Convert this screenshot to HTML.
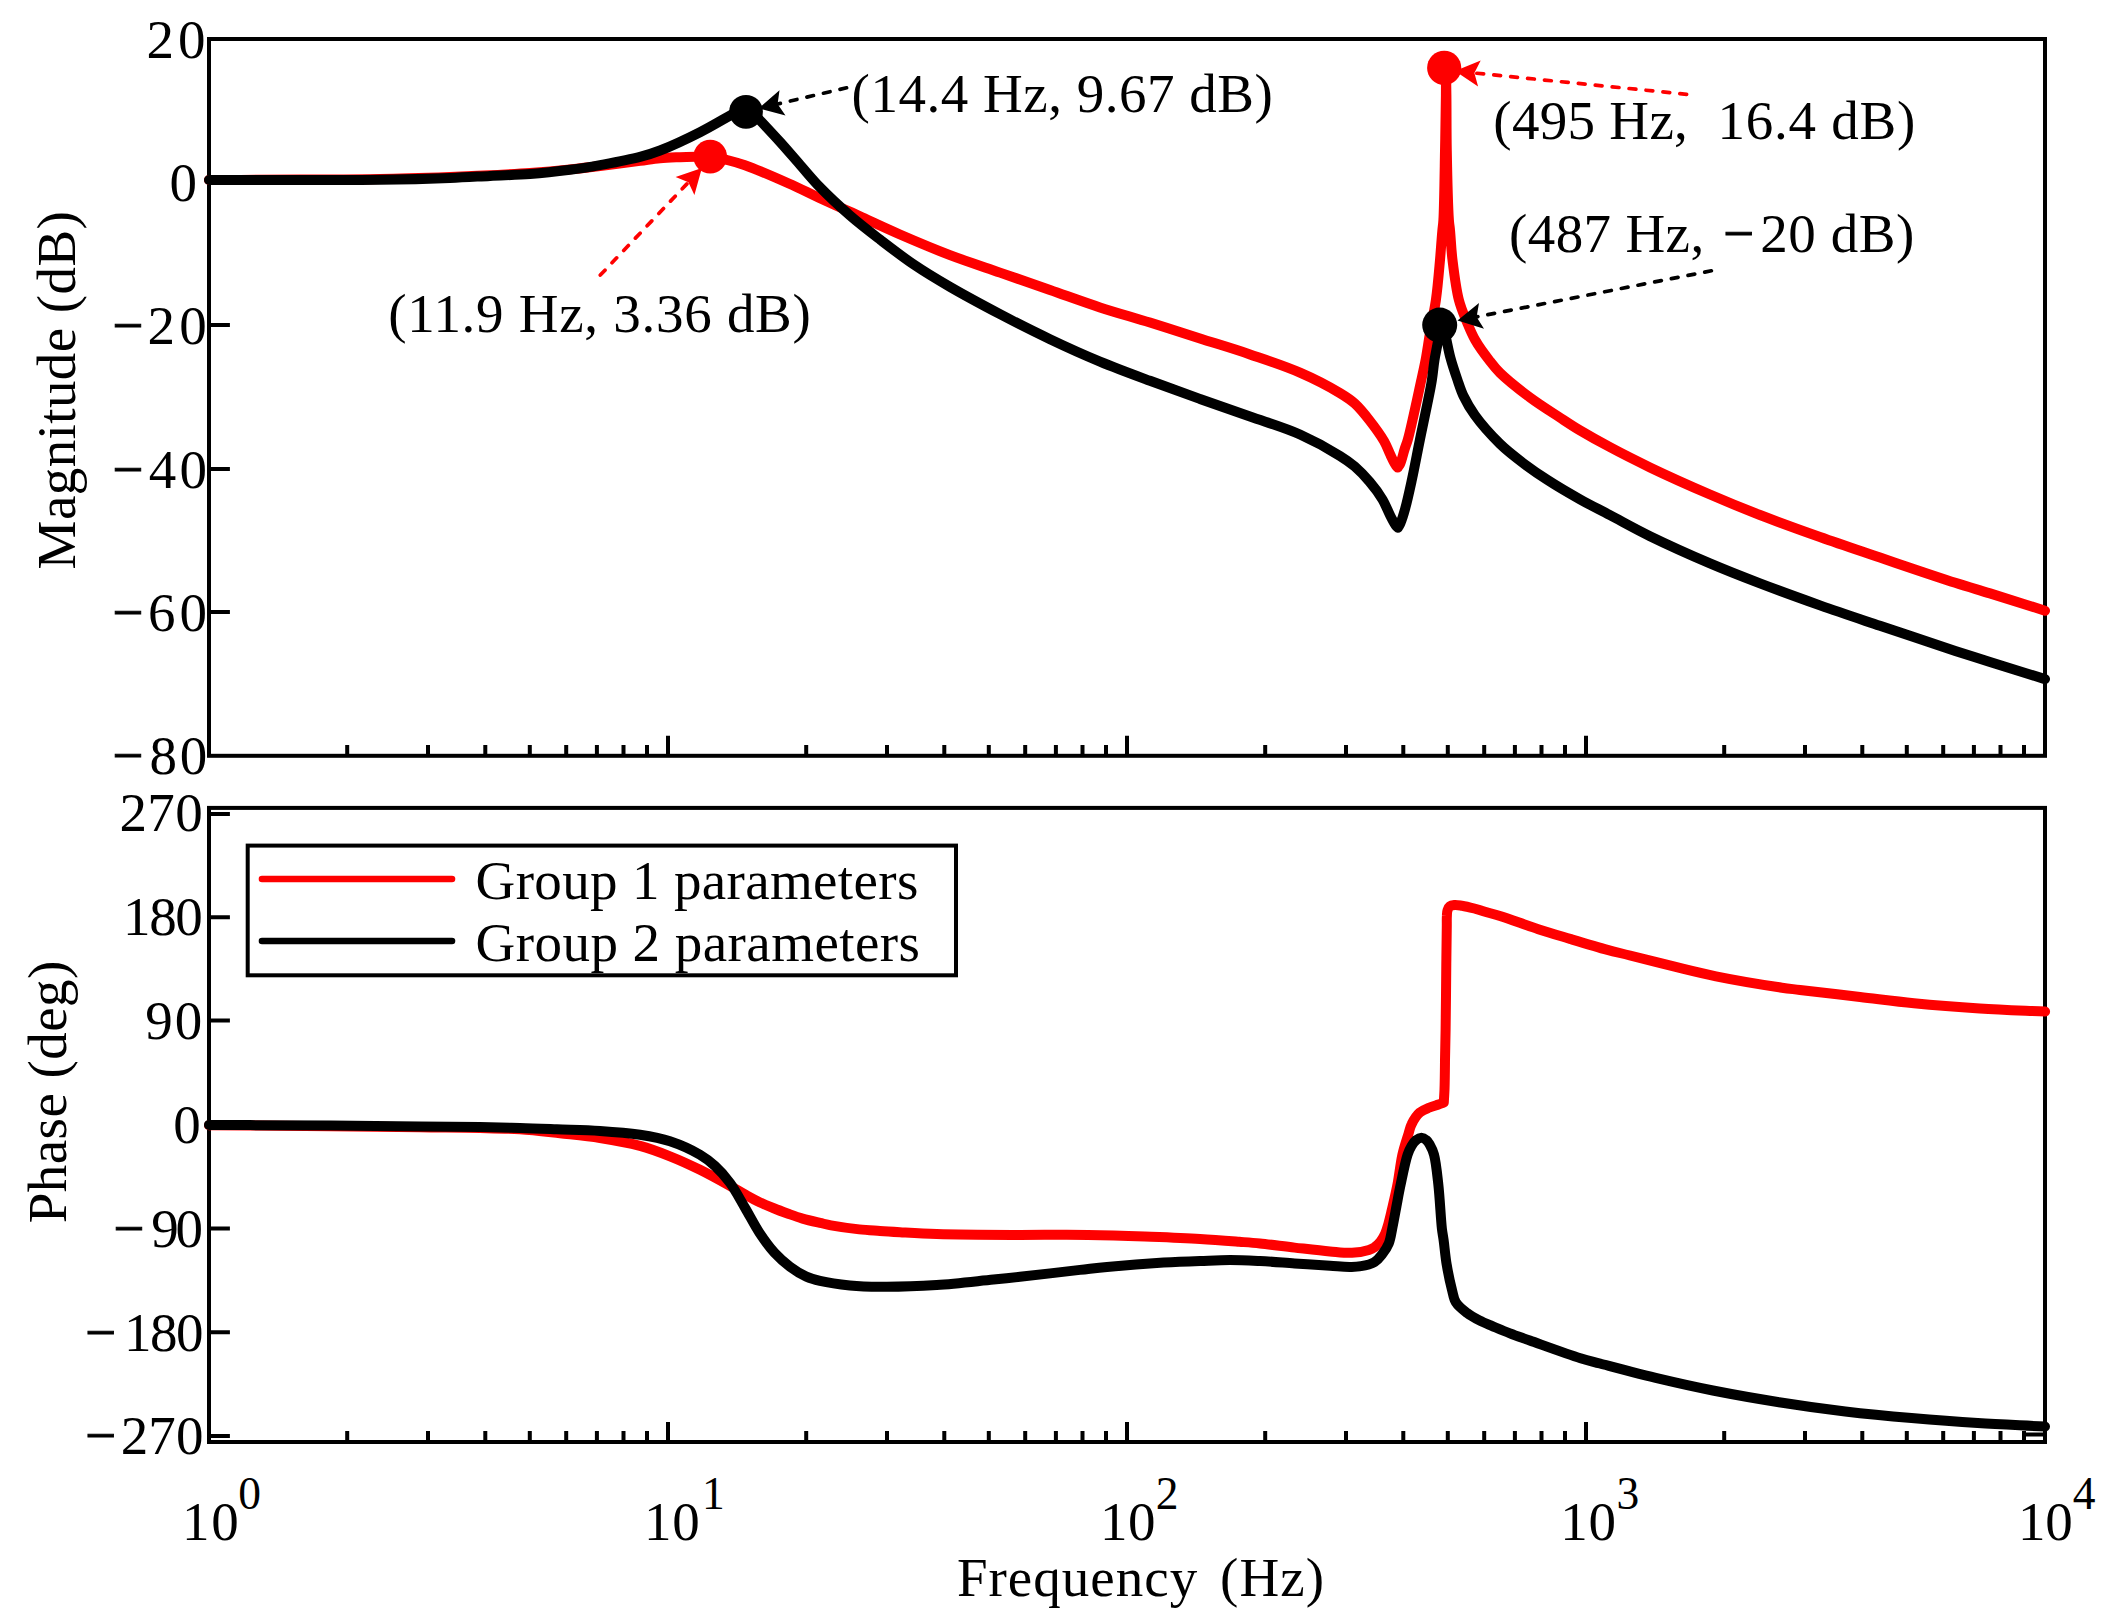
<!DOCTYPE html>
<html lang="en">
<head>
<meta charset="utf-8">
<title>Bode plot</title>
<style>html,body{margin:0;padding:0;background:#fff}svg{display:block}</style>
</head>
<body>
<svg width="2115" height="1619" viewBox="0 0 2115 1619" role="img" aria-label="Bode plot: magnitude and phase versus frequency for two parameter groups">
<rect width="2115" height="1619" fill="#fff"/>
<path d="M347.2 755.9V744.9M428.0 755.9V744.9M485.3 755.9V744.9M529.8 755.9V744.9M566.2 755.9V744.9M596.9 755.9V744.9M623.5 755.9V744.9M647.0 755.9V744.9M806.2 755.9V744.9M887.0 755.9V744.9M944.3 755.9V744.9M988.8 755.9V744.9M1025.2 755.9V744.9M1055.9 755.9V744.9M1082.5 755.9V744.9M1106.0 755.9V744.9M668.0 755.9V735.8M1265.2 755.9V744.9M1346.0 755.9V744.9M1403.3 755.9V744.9M1447.8 755.9V744.9M1484.2 755.9V744.9M1514.9 755.9V744.9M1541.5 755.9V744.9M1565.0 755.9V744.9M1127.0 755.9V735.8M1724.2 755.9V744.9M1805.0 755.9V744.9M1862.3 755.9V744.9M1906.8 755.9V744.9M1943.2 755.9V744.9M1973.9 755.9V744.9M2000.5 755.9V744.9M2024.0 755.9V744.9M1586.0 755.9V735.8M347.2 1442.0V1431.0M428.0 1442.0V1431.0M485.3 1442.0V1431.0M529.8 1442.0V1431.0M566.2 1442.0V1431.0M596.9 1442.0V1431.0M623.5 1442.0V1431.0M647.0 1442.0V1431.0M806.2 1442.0V1431.0M887.0 1442.0V1431.0M944.3 1442.0V1431.0M988.8 1442.0V1431.0M1025.2 1442.0V1431.0M1055.9 1442.0V1431.0M1082.5 1442.0V1431.0M1106.0 1442.0V1431.0M668.0 1442.0V1421.9M1265.2 1442.0V1431.0M1346.0 1442.0V1431.0M1403.3 1442.0V1431.0M1447.8 1442.0V1431.0M1484.2 1442.0V1431.0M1514.9 1442.0V1431.0M1541.5 1442.0V1431.0M1565.0 1442.0V1431.0M1127.0 1442.0V1421.9M1724.2 1442.0V1431.0M1805.0 1442.0V1431.0M1862.3 1442.0V1431.0M1906.8 1442.0V1431.0M1943.2 1442.0V1431.0M1973.9 1442.0V1431.0M2000.5 1442.0V1431.0M2024.0 1442.0V1431.0M1586.0 1442.0V1421.9M209.0 325.0H229.9M209.0 469.0H229.9M209.0 612.0H229.9M209.0 814.0H229.9M209.0 917.2H229.9M209.0 1020.6H229.9M209.0 1228.6H229.9M209.0 1332.2H229.9M209.0 1436.0H229.9M2045.0 1434.4H2025.5" fill="none" stroke="#000" stroke-width="4.0"/>
<rect x="209.0" y="39.0" width="1836.0" height="716.8" fill="none" stroke="#000" stroke-width="4.0"/>
<rect x="209.0" y="807.9" width="1836.0" height="634.1" fill="none" stroke="#000" stroke-width="4.0"/>
<path d="M209.0 180.0C239.3 179.9 270.6 179.8 300.0 179.6C327.5 179.4 354.2 179.5 380.0 179.0C404.1 178.6 429.9 177.7 450.0 177.0C465.2 176.4 476.7 175.9 490.0 175.2C503.3 174.5 516.7 174.0 530.0 173.0C543.3 172.0 557.6 170.7 570.0 169.4C580.7 168.3 589.3 167.3 600.0 166.0C612.4 164.5 629.0 162.3 640.0 160.9C647.8 159.9 653.3 158.9 660.0 158.3C666.7 157.7 673.3 157.5 680.0 157.2C686.7 157.0 694.4 156.9 700.0 156.8C704.0 156.7 706.4 156.3 710.2 156.6C715.1 157.0 721.3 158.6 727.0 160.0C732.9 161.5 737.8 162.7 745.0 165.2C756.5 169.2 775.5 177.6 788.8 183.5C800.1 188.5 808.9 193.1 820.0 198.2C832.5 204.0 846.7 210.3 860.0 216.3C873.3 222.4 885.9 228.4 900.0 234.5C915.7 241.3 933.2 248.7 950.0 255.1C966.6 261.4 983.3 266.8 1000.0 272.6C1016.7 278.4 1033.3 284.2 1050.0 290.0C1066.7 295.8 1083.3 302.0 1100.0 307.4C1116.6 312.8 1133.3 317.4 1150.0 322.6C1166.7 327.8 1183.3 333.2 1200.0 338.5C1216.7 343.8 1233.4 348.7 1250.0 354.4C1266.7 360.1 1284.5 365.8 1300.0 372.6C1314.3 378.8 1330.1 387.1 1340.0 393.1C1346.3 396.9 1350.1 399.3 1354.8 403.5C1360.0 408.2 1364.9 414.4 1369.6 420.5C1374.6 426.9 1380.3 434.7 1384.0 441.0C1386.9 446.0 1388.4 450.8 1390.5 455.0C1392.2 458.6 1394.0 462.6 1395.5 464.8C1396.3 466.1 1397.0 466.7 1397.8 467.6C1398.6 466.2 1399.5 465.4 1400.3 463.5C1401.8 460.2 1403.3 453.2 1404.7 448.9C1405.8 445.4 1406.6 443.9 1407.9 439.3C1411.1 428.0 1418.1 394.5 1421.3 380.0C1423.2 371.6 1424.2 367.3 1425.6 360.0C1427.2 351.3 1428.6 341.0 1430.3 331.2C1432.0 321.0 1434.3 311.1 1435.9 300.0C1437.7 287.5 1438.9 272.3 1440.0 260.0C1440.9 249.6 1441.6 238.5 1442.3 231.1C1442.7 226.5 1443.1 225.3 1443.4 220.0C1444.2 206.8 1444.6 172.8 1445.0 151.0C1445.4 131.4 1445.7 110.3 1445.9 95.0C1446.0 84.4 1446.0 77.0 1446.0 68.0C1446.1 77.0 1446.3 84.4 1446.4 95.0C1446.6 110.3 1446.4 131.4 1446.8 151.0C1447.2 172.8 1448.0 206.8 1448.9 220.0C1449.3 225.3 1449.7 226.5 1450.1 231.1C1450.8 238.5 1451.2 249.6 1452.5 260.0C1454.0 272.3 1456.0 288.9 1458.9 300.0C1461.0 308.2 1463.7 314.2 1466.5 321.0C1469.2 327.5 1471.6 333.7 1475.2 340.0C1479.2 347.1 1485.4 355.3 1490.0 361.2C1493.5 365.8 1495.5 368.5 1500.0 372.9C1507.1 379.9 1519.8 389.9 1530.0 397.5C1539.8 404.8 1551.0 411.7 1560.0 417.6C1567.3 422.4 1572.6 426.0 1580.0 430.4C1588.9 435.7 1599.2 441.5 1610.0 447.2C1622.3 453.8 1635.2 460.3 1650.0 467.4C1667.9 476.0 1690.8 486.2 1710.0 494.5C1727.4 502.0 1742.5 508.2 1760.0 515.0C1779.0 522.4 1800.0 529.9 1820.0 537.0C1840.0 544.1 1858.9 550.4 1880.0 557.6C1903.7 565.6 1935.0 576.3 1955.3 582.8C1969.0 587.2 1977.1 589.4 1990.0 593.4C2006.2 598.4 2026.7 604.9 2045.0 610.7" fill="none" stroke="#fe0000" stroke-width="10.0" stroke-linecap="round" stroke-linejoin="round"/>
<path d="M209.0 180.0C239.3 180.0 270.6 180.0 300.0 180.0C327.5 180.0 354.2 180.2 380.0 179.8C404.1 179.5 429.9 178.8 450.0 178.0C465.2 177.4 476.7 176.6 490.0 175.9C503.3 175.2 516.7 175.0 530.0 174.0C543.3 173.0 557.6 171.4 570.0 169.8C580.7 168.4 589.3 167.0 600.0 165.1C612.4 162.8 629.0 159.8 640.0 156.9C647.9 154.8 652.3 153.5 660.0 150.5C671.2 146.2 687.8 138.4 700.0 132.2C710.7 126.8 722.2 119.9 729.5 115.8C733.9 113.3 736.9 111.6 740.0 109.8C742.4 108.4 744.3 107.1 746.5 105.8C748.7 108.1 750.1 109.7 753.0 112.8C758.9 119.2 771.7 132.7 780.0 141.9C787.2 149.9 793.3 157.1 800.0 164.7C806.7 172.3 812.5 179.5 820.0 187.3C828.8 196.4 839.8 206.6 850.0 215.5C860.0 224.2 870.1 231.9 880.6 240.0C891.4 248.3 902.5 256.9 914.0 264.7C925.6 272.6 936.9 279.3 950.0 286.9C965.2 295.7 983.3 305.4 1000.0 314.2C1016.6 322.9 1033.2 331.3 1050.0 339.2C1066.6 347.1 1083.2 354.6 1100.0 361.6C1116.6 368.5 1133.3 374.6 1150.0 380.8C1166.6 387.0 1183.3 393.0 1200.0 399.0C1216.6 404.9 1233.3 410.6 1250.0 416.5C1266.7 422.4 1284.5 427.6 1300.0 434.5C1314.3 440.9 1330.1 449.7 1340.0 455.9C1346.3 459.8 1350.0 462.4 1354.8 466.5C1359.9 470.9 1365.0 476.3 1369.6 481.8C1374.3 487.3 1379.0 493.6 1382.5 499.5C1385.7 504.9 1387.9 511.1 1390.3 515.7C1392.1 519.3 1394.0 522.9 1395.5 525.0C1396.4 526.3 1397.1 526.9 1397.9 527.8C1398.7 526.4 1399.5 525.4 1400.3 523.5C1401.8 520.1 1403.6 514.4 1405.2 508.5C1407.5 500.3 1409.8 489.4 1412.1 478.8C1414.7 466.6 1417.4 452.0 1420.0 439.3C1422.4 427.3 1425.1 415.1 1427.2 404.5C1429.0 395.6 1430.7 387.8 1431.9 380.0C1433.0 373.0 1433.5 366.2 1434.5 360.0C1435.3 354.6 1436.4 349.9 1437.3 345.0C1438.2 340.3 1439.1 335.3 1439.8 331.0C1440.4 327.3 1440.8 324.0 1441.3 320.5C1442.4 324.0 1443.6 327.6 1444.5 331.0C1445.3 334.1 1445.7 336.5 1446.5 340.0C1447.6 345.0 1448.8 351.7 1450.5 358.0C1452.4 365.0 1455.2 373.3 1457.5 380.0C1459.5 385.8 1460.9 390.5 1463.5 396.0C1466.5 402.2 1469.9 408.4 1474.8 415.2C1481.2 424.1 1491.3 435.4 1500.0 443.9C1508.0 451.7 1516.7 458.2 1525.0 464.4C1532.6 470.1 1539.3 474.7 1547.6 480.0C1557.3 486.3 1569.3 493.3 1580.0 499.3C1590.1 505.0 1599.3 509.5 1610.0 515.2C1622.4 521.7 1635.2 529.0 1650.0 536.2C1667.9 544.9 1690.8 555.2 1710.0 563.4C1727.3 570.8 1742.5 576.7 1760.0 583.4C1779.0 590.7 1800.0 598.3 1820.0 605.4C1840.0 612.5 1858.9 618.7 1880.0 625.8C1903.7 633.8 1935.0 644.2 1955.3 650.9C1969.1 655.4 1977.1 658.0 1990.0 662.1C2006.2 667.2 2026.7 673.4 2045.0 679.1" fill="none" stroke="#000000" stroke-width="10.0" stroke-linecap="round" stroke-linejoin="round"/>
<path d="M209.0 1125.2C249.7 1125.6 293.5 1125.9 331.0 1126.3C363.0 1126.6 393.2 1127.0 420.0 1127.3C442.0 1127.6 462.0 1127.6 480.0 1128.0C494.7 1128.3 506.7 1128.4 520.0 1129.3C533.3 1130.2 546.7 1131.8 560.0 1133.2C573.3 1134.7 586.7 1135.9 600.0 1138.0C613.4 1140.1 627.7 1142.6 640.0 1145.9C650.8 1148.8 660.1 1152.4 670.0 1156.3C680.1 1160.3 690.1 1164.9 700.0 1169.8C710.1 1174.8 721.6 1181.2 730.0 1185.9C736.2 1189.3 740.8 1192.2 745.9 1195.0C750.6 1197.6 754.9 1200.0 759.6 1202.2C764.4 1204.5 769.4 1206.5 774.4 1208.5C779.5 1210.6 785.1 1212.6 790.0 1214.4C794.4 1216.0 798.0 1217.3 802.6 1218.6C807.9 1220.1 814.9 1221.7 820.0 1222.9C824.1 1223.8 826.5 1224.5 831.0 1225.3C838.2 1226.6 850.6 1228.4 859.3 1229.4C866.7 1230.2 873.2 1230.5 880.0 1231.0C886.7 1231.5 892.3 1231.8 900.0 1232.2C910.4 1232.8 922.3 1233.6 936.7 1234.0C957.4 1234.6 987.2 1234.8 1012.4 1234.9C1037.6 1235.0 1064.6 1234.6 1088.0 1234.9C1108.3 1235.2 1126.0 1235.8 1144.8 1236.5C1163.3 1237.2 1183.2 1237.9 1200.0 1238.9C1214.2 1239.7 1228.3 1240.9 1239.3 1241.8C1247.3 1242.4 1252.2 1242.7 1260.0 1243.5C1270.1 1244.5 1283.0 1246.3 1294.6 1247.6C1306.3 1248.9 1319.6 1250.5 1330.0 1251.4C1338.2 1252.1 1345.2 1253.1 1352.0 1252.8C1358.0 1252.5 1364.9 1251.3 1368.9 1250.0C1371.3 1249.2 1372.6 1248.6 1374.4 1247.4C1376.5 1245.9 1378.7 1243.8 1380.5 1241.5C1382.4 1239.1 1383.9 1236.4 1385.2 1233.5C1386.5 1230.5 1387.3 1227.5 1388.3 1224.0C1389.5 1219.8 1390.5 1215.4 1391.8 1210.0C1393.5 1202.7 1395.8 1193.2 1397.5 1184.3C1399.3 1174.8 1400.4 1163.5 1402.4 1154.6C1404.1 1147.1 1406.7 1139.7 1408.4 1134.1C1409.6 1130.2 1409.9 1127.5 1411.6 1124.2C1413.5 1120.3 1416.6 1115.4 1419.8 1112.6C1422.7 1110.1 1426.4 1108.9 1429.6 1107.5C1432.6 1106.2 1435.9 1105.4 1438.5 1104.5C1440.5 1103.8 1442.0 1103.2 1443.8 1102.6C1444.0 1098.3 1444.3 1094.8 1444.5 1089.6C1444.8 1081.7 1444.9 1069.9 1445.0 1060.0C1445.2 1050.0 1445.4 1042.0 1445.6 1030.0C1445.9 1012.2 1446.1 982.9 1446.3 963.8C1446.5 949.1 1446.7 933.4 1446.8 925.0C1446.8 921.0 1446.7 918.7 1446.9 916.0C1447.0 913.9 1446.9 912.0 1447.5 910.3C1448.0 908.8 1448.7 907.2 1449.9 906.3C1451.1 905.4 1452.8 905.2 1454.5 905.0C1456.7 904.8 1459.2 905.3 1462.0 905.7C1465.6 906.3 1470.4 907.5 1474.3 908.5C1477.8 909.4 1480.5 910.4 1484.2 911.5C1488.8 912.9 1493.6 914.0 1500.0 916.0C1510.0 919.1 1526.1 925.2 1538.3 929.2C1549.3 932.8 1559.0 935.6 1570.0 938.9C1582.0 942.5 1596.6 946.9 1607.5 949.9C1615.9 952.2 1621.1 953.2 1630.0 955.5C1642.8 958.6 1661.8 963.6 1676.7 967.2C1690.3 970.5 1701.2 973.3 1716.0 976.3C1735.1 980.2 1766.8 985.4 1781.9 987.7C1789.8 988.9 1792.2 989.0 1800.0 990.0C1814.2 991.7 1840.5 994.7 1860.0 997.0C1878.4 999.1 1895.0 1001.4 1913.9 1003.2C1934.7 1005.2 1957.9 1007.0 1979.8 1008.4C2001.6 1009.8 2023.3 1010.5 2045.1 1011.5" fill="none" stroke="#fe0000" stroke-width="10.0" stroke-linecap="round" stroke-linejoin="round"/>
<path d="M209.0 1124.9C249.7 1125.1 293.5 1125.3 331.0 1125.6C363.0 1125.8 393.2 1126.1 420.0 1126.4C442.0 1126.6 462.0 1126.8 480.0 1127.0C494.7 1127.3 507.0 1127.6 520.0 1128.0C532.5 1128.3 544.0 1128.8 556.7 1129.3C570.5 1129.8 585.9 1130.0 600.0 1130.9C613.6 1131.8 627.7 1132.9 640.0 1134.8C650.8 1136.5 660.2 1138.1 670.0 1141.3C680.2 1144.7 691.9 1150.0 700.0 1154.8C706.1 1158.4 710.2 1161.6 715.0 1166.0C720.3 1170.8 725.3 1176.5 730.0 1182.9C735.4 1190.2 740.2 1199.7 745.2 1208.1C750.1 1216.4 754.5 1225.3 759.6 1233.0C764.3 1240.1 769.1 1246.8 774.4 1252.6C779.3 1257.9 784.5 1262.6 790.0 1266.7C795.2 1270.6 801.0 1274.2 806.4 1276.6C811.0 1278.7 814.5 1279.6 820.0 1280.9C828.0 1282.7 839.9 1284.4 849.9 1285.4C859.9 1286.4 868.4 1286.7 880.0 1286.8C895.9 1287.0 917.8 1286.3 936.7 1285.1C955.6 1283.9 978.1 1281.1 993.5 1279.6C1004.0 1278.5 1009.4 1278.0 1020.0 1276.8C1036.0 1275.1 1063.9 1271.7 1080.0 1269.9C1090.8 1268.7 1096.3 1267.9 1107.0 1266.9C1122.4 1265.5 1146.9 1263.6 1163.7 1262.6C1177.1 1261.8 1188.5 1261.4 1200.0 1261.0C1210.5 1260.6 1220.0 1260.0 1230.0 1260.0C1240.0 1260.0 1249.6 1260.5 1260.0 1261.0C1271.1 1261.6 1283.0 1262.6 1294.6 1263.4C1306.3 1264.2 1319.6 1265.1 1330.0 1265.7C1338.1 1266.2 1344.8 1267.2 1351.6 1266.9C1357.7 1266.6 1364.8 1265.6 1368.9 1264.5C1371.3 1263.8 1372.6 1263.4 1374.4 1262.2C1376.9 1260.6 1379.6 1257.7 1381.8 1254.8C1384.4 1251.5 1387.1 1247.5 1388.8 1243.3C1390.6 1238.9 1391.1 1234.1 1392.2 1228.7C1393.6 1222.0 1395.1 1213.5 1396.5 1206.0C1397.9 1198.7 1399.0 1192.1 1400.7 1184.3C1402.6 1175.2 1405.3 1161.4 1407.6 1154.6C1408.9 1150.8 1410.0 1148.5 1411.5 1146.0C1412.8 1143.8 1414.2 1141.7 1416.0 1140.3C1417.6 1139.0 1419.6 1137.8 1421.4 1137.8C1423.1 1137.8 1425.1 1139.0 1426.5 1140.2C1427.9 1141.3 1428.7 1142.8 1429.8 1144.7C1431.3 1147.3 1432.8 1150.3 1434.0 1154.6C1436.0 1161.8 1437.1 1173.4 1438.3 1184.3C1439.8 1197.6 1440.8 1218.8 1441.9 1228.7C1442.5 1233.7 1443.0 1235.5 1443.6 1240.0C1444.5 1246.6 1445.3 1256.5 1446.7 1264.7C1448.1 1273.0 1450.1 1282.5 1451.9 1289.4C1453.2 1294.5 1453.5 1298.6 1455.9 1302.4C1458.4 1306.5 1463.1 1310.0 1467.1 1313.0C1470.9 1315.9 1475.2 1318.2 1479.4 1320.4C1483.5 1322.5 1487.3 1324.0 1491.8 1325.9C1497.3 1328.2 1503.8 1331.0 1510.0 1333.4C1516.4 1335.9 1521.7 1337.6 1529.8 1340.5C1542.8 1345.1 1567.5 1354.2 1580.5 1358.2C1588.5 1360.7 1591.7 1361.3 1600.0 1363.5C1614.5 1367.3 1640.6 1374.3 1660.0 1378.9C1678.1 1383.2 1694.2 1386.8 1712.9 1390.5C1733.7 1394.6 1757.0 1398.7 1779.1 1402.2C1801.1 1405.7 1823.2 1408.8 1845.3 1411.5C1867.3 1414.1 1889.4 1416.2 1911.5 1418.1C1933.6 1420.0 1955.5 1421.7 1977.7 1423.1C2000.0 1424.5 2022.6 1425.4 2045.0 1426.6" fill="none" stroke="#000000" stroke-width="10.0" stroke-linecap="round" stroke-linejoin="round"/>
<path d="M846.6 87.8L777.6 104.0" stroke="#000000" stroke-width="3.7" stroke-dasharray="6.8 10.2" stroke-linecap="round" fill="none"/><path d="M758.7 108.5L779.5 90.2L777.6 104.0L785.5 115.6Z" fill="#000000"/>
<path d="M600.3 275.1L688.4 182.3" stroke="#fe0000" stroke-width="3.7" stroke-dasharray="6.8 10.2" stroke-linecap="round" fill="none"/><path d="M701.9 168.1L694.4 194.9L688.4 182.3L675.6 176.9Z" fill="#fe0000"/>
<path d="M1686.6 94.3L1474.4 73.0" stroke="#fe0000" stroke-width="3.7" stroke-dasharray="6.8 10.2" stroke-linecap="round" fill="none"/><path d="M1455.0 71.1L1480.7 60.6L1474.4 73.0L1478.1 86.4Z" fill="#fe0000"/>
<path d="M1711.4 270.8L1476.6 316.9" stroke="#000000" stroke-width="3.7" stroke-dasharray="6.8 10.2" stroke-linecap="round" fill="none"/><path d="M1457.5 320.6L1479.0 303.1L1476.6 316.9L1484.0 328.7Z" fill="#000000"/>
<circle cx="710.2" cy="156.6" r="16.9" fill="#fe0000"/>
<circle cx="1444.2" cy="67.9" r="17.1" fill="#fe0000"/>
<circle cx="746" cy="111.8" r="16.9" fill="#000000"/>
<circle cx="1439.7" cy="325.1" r="17.5" fill="#000000"/>
<rect x="247.7" y="845.6" width="708.3" height="129.7" fill="#fff" stroke="#000" stroke-width="4"/>
<path d="M262 879H452" stroke="#fe0000" stroke-width="6.6" stroke-linecap="round"/>
<path d="M262 941H452" stroke="#000" stroke-width="6.6" stroke-linecap="round"/>
<g font-family="'Liberation Serif', 'Times New Roman', serif" font-size="55.0" fill="#000">
<text x="146.6" y="58.0" letter-spacing="3.90">20</text>
<text x="169.6" y="200.9">0</text>
<text x="147.6" y="343.7" letter-spacing="4.10">20</text>
<text x="112.2" y="343.7" stroke="#000" stroke-width="0.9">−</text>
<text x="148.8" y="487.7" letter-spacing="3.32">40</text>
<text x="112.3" y="487.7" stroke="#000" stroke-width="0.9">−</text>
<text x="148.1" y="631.2" letter-spacing="4.00">60</text>
<text x="112.3" y="631.2" stroke="#000" stroke-width="0.9">−</text>
<text x="149.4" y="774.4" letter-spacing="2.75">80</text>
<text x="112.3" y="774.4" stroke="#000" stroke-width="0.9">−</text>
<text x="119.5" y="831.4" letter-spacing="0.35">270</text>
<text x="123.1" y="935.4" letter-spacing="-1.45">180</text>
<text x="145.2" y="1039.0" letter-spacing="2.07">90</text>
<text x="173.3" y="1143.0">0</text>
<text x="151.2" y="1247.0" letter-spacing="-3.12">90</text>
<text x="113.2" y="1247.0" stroke="#000" stroke-width="0.9">−</text>
<text x="124.1" y="1350.6" letter-spacing="-1.60">180</text>
<text x="85.0" y="1350.6" stroke="#000" stroke-width="0.9">−</text>
<text x="120.7" y="1454.4" letter-spacing="0.10">270</text>
<text x="85.0" y="1454.4" stroke="#000" stroke-width="0.9">−</text>
<text x="182.1" y="1540.1" letter-spacing="1.70">10</text>
<text x="238.2" y="1508.8" font-size="45.5">0</text>
<text x="644.1" y="1540.1" letter-spacing="0.60">10</text>
<text x="702.0" y="1508.8" font-size="45.5">1</text>
<text x="1099.9" y="1540.1" letter-spacing="0.70">10</text>
<text x="1155.8" y="1508.8" font-size="45.5">2</text>
<text x="1560.2" y="1540.1" letter-spacing="0.70">10</text>
<text x="1616.6" y="1508.8" font-size="45.5">3</text>
<text x="2018.1" y="1540.1" letter-spacing="-0.40">10</text>
<text x="2072.8" y="1508.8" font-size="45.5">4</text>
<text x="956.9" y="1596.0" letter-spacing="1.03" id="tfreq">Frequency</text>
<text x="1220.1" y="1596.0" letter-spacing="1.10">(Hz)</text>
<text transform="translate(75.2 567.8) rotate(-90)" x="-1.6" y="0" letter-spacing="0.41" id="tmag">Magnitude (dB)</text>
<text transform="translate(66.4 1221.7) rotate(-90)" x="-1.6" y="0" letter-spacing="0.45" id="tph">Phase (deg)</text>
<text x="851.6" y="111.9" letter-spacing="0.52" id="a1">(14.4 Hz, 9.67 dB)</text>
<text x="388.2" y="331.8" letter-spacing="0.72" id="a2">(11.9 Hz, 3.36 dB)</text>
<text x="1493.3" y="138.9" letter-spacing="0.30" id="a3">(495 Hz,</text>
<text x="1717.6" y="138.9" letter-spacing="0.74">16.4 dB)</text>
<text x="1509.1" y="252.0" letter-spacing="0.37" id="a4">(487 Hz,</text>
<text x="1723.0" y="252.0" stroke="#000" stroke-width="0.9">−</text>
<text x="1760.3" y="252.0" letter-spacing="0.57">20 dB)</text>
<text x="475.6" y="898.5" letter-spacing="0.35" id="l1">Group 1 parameters</text>
<text x="475.6" y="961.0" letter-spacing="0.45" id="l2">Group 2 parameters</text>
</g>
</svg>
</body>
</html>
